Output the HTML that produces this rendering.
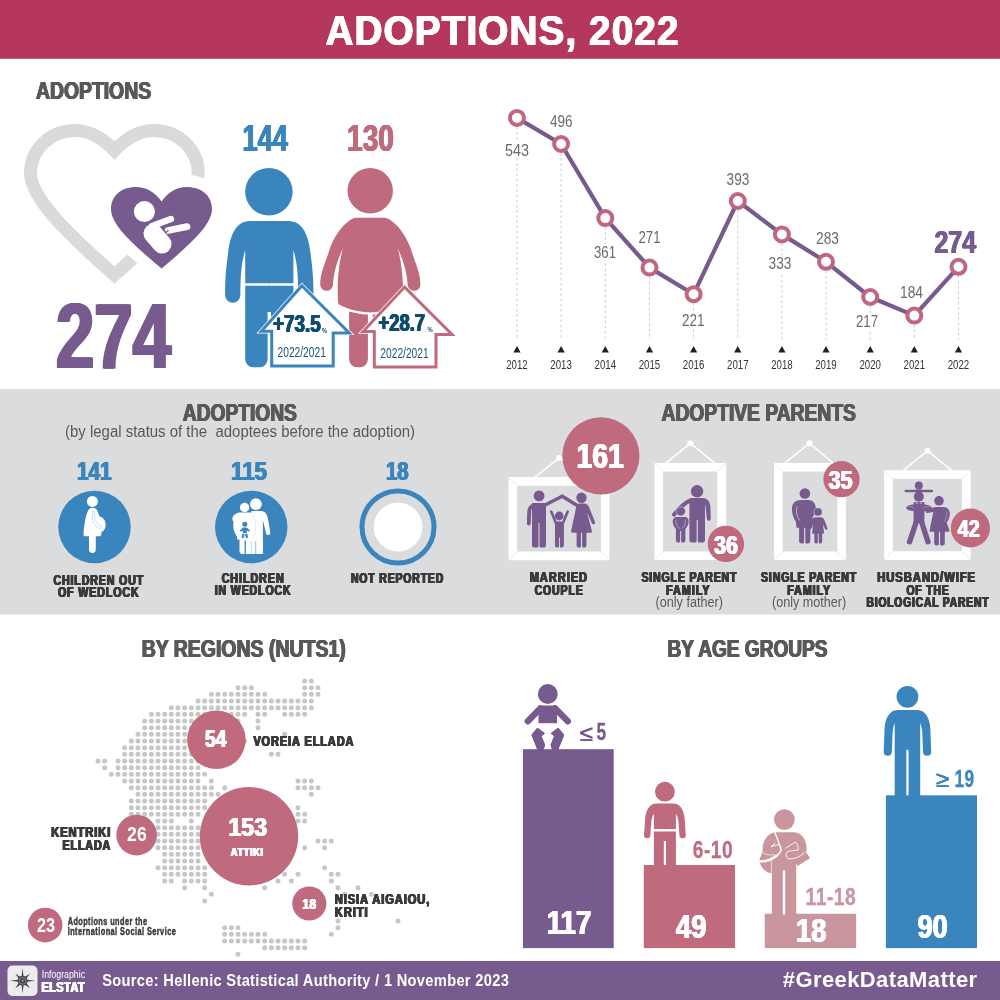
<!DOCTYPE html>
<html lang="en"><head><meta charset="utf-8"><title>Adoptions, 2022</title>
<style>
html,body{margin:0;padding:0;background:#fff;}
body{width:1000px;height:1000px;overflow:hidden;font-family:"Liberation Sans",sans-serif;}
svg{display:block;}
text{font-family:"Liberation Sans",sans-serif;}
</style></head><body>
<svg width="1000" height="1000" viewBox="0 0 1000 1000">
<rect x="0" y="0" width="1000" height="58.8" fill="#B5385C"/>
<rect x="0" y="389" width="1000" height="225.5" fill="#DBDCDD"/>
<rect x="0" y="961" width="1000" height="39" fill="#775A8E"/>
<text x="326.0" y="45.3" font-size="43.3" font-weight="bold" fill="#fff" textLength="354.02" lengthAdjust="spacingAndGlyphs" style="filter:drop-shadow(0.8px 0 0 #fff) drop-shadow(-0.8px 0 0 #fff)" letter-spacing="1.2">ADOPTIONS, 2022</text>
<text x="36.41" y="99.3" font-size="23.9" font-weight="bold" fill="#58595B" textLength="115.18" lengthAdjust="spacingAndGlyphs" style="filter:drop-shadow(0.41px 0 0 #58595B) drop-shadow(-0.41px 0 0 #58595B)">ADOPTIONS</text>
<text x="56.57" y="367.5" font-size="92.6" font-weight="bold" fill="#775A8E" textLength="114.86" lengthAdjust="spacingAndGlyphs" style="filter:drop-shadow(1.57px 0 0 #775A8E) drop-shadow(-1.57px 0 0 #775A8E)">274</text>
<text x="243.12" y="151" font-size="36.2" font-weight="bold" fill="#3A85BE" textLength="45.26" lengthAdjust="spacingAndGlyphs" style="filter:drop-shadow(0.62px 0 0 #3A85BE) drop-shadow(-0.62px 0 0 #3A85BE)">144</text>
<text x="347.62" y="151" font-size="36.2" font-weight="bold" fill="#BF6A7D" textLength="46.76" lengthAdjust="spacingAndGlyphs" style="filter:drop-shadow(0.62px 0 0 #BF6A7D) drop-shadow(-0.62px 0 0 #BF6A7D)">130</text>
<path d="M114.4 150.5 C103 138.5 90 130.5 75 130.5 C50 130.5 30.5 150 30.5 173 C30.5 198 68 234 114.4 275 C160.8 234 198.3 198 198.3 173 C198.3 150 178.8 130.5 153.8 130.5 C138.8 130.5 125.8 138.5 114.4 150.5Z" fill="none" stroke="#D8DADB" stroke-width="13" stroke-linejoin="miter" stroke-miterlimit="6"/>
<path d="M161.6 201.6 C155 192 146 187 136 187 C121 187 111 196 111 209 C111 224 130 242 161.6 268.6 C193 242 212 224 212 209 C212 196 202 187 186.5 187 C177 187 168 192 161.6 201.6Z" fill="#fff" stroke="#fff" stroke-width="24" stroke-linejoin="round"/>
<path d="M161.6 201.6 C155 192 146 187 136 187 C121 187 111 196 111 209 C111 224 130 242 161.6 268.6 C193 242 212 224 212 209 C212 196 202 187 186.5 187 C177 187 168 192 161.6 201.6Z" fill="#775A8E"/>
<circle cx="144.4" cy="211.6" r="10.5" fill="#fff"/>
<g stroke="#fff" stroke-linecap="round" fill="none"><line x1="153" y1="233.5" x2="162" y2="244" stroke-width="19"/><line x1="152" y1="226" x2="171" y2="219" stroke-width="6.2"/><line x1="168" y1="230.5" x2="187" y2="226.6" stroke-width="6.8"/></g>
<path d="M163.2 228.3 L165.8 232.8 L168.5 230.6" fill="none" stroke="#775A8E" stroke-width="1.3"/>
<circle cx="268.9" cy="191.75" r="23.75" fill="#3A85BE"/>
<g fill="#3A85BE"><path d="M269.8 221 H249.75 C236 221 229.8 236 228.2 252.5 C226.5 266 225.1 275 225.1 295 A7.65 7.65 0 0 0 240.4 295 C240.4 275 241.5 262 245.2 250 V283.3 H269.8Z"/><path d="M245.2 285.7 H269.8 V312 H267.6 V359.3 A8 8 0 0 1 259.6 367.3 H253.2 A8 8 0 0 1 245.2 359.3Z"/><g transform="translate(538.6 0) scale(-1 1)"><path d="M269.8 221 H249.75 C236 221 229.8 236 228.2 252.5 C226.5 266 225.1 275 225.1 295 A7.65 7.65 0 0 0 240.4 295 C240.4 275 241.5 262 245.2 250 V283.3 H269.8Z"/><path d="M245.2 285.7 H269.8 V312 H267.6 V359.3 A8 8 0 0 1 259.6 367.3 H253.2 A8 8 0 0 1 245.2 359.3Z"/></g></g>
<circle cx="370.2" cy="190.75" r="22.75" fill="#BF6A7D"/>
<g fill="#BF6A7D"><path d="M370.8 217.75 H355.9 C349 218.5 337 230 330.2 247.5 C326 262 320.2 272 320.2 284.4 A6.4 6.4 0 0 0 333 284.4 C333.6 272 338 258 343.1 248.3 C340 258 338.3 270 337.6 285 L337.9 302 Q338 304.3 340 305 C350 310 360 312.3 370.8 312.3Z"/><path d="M349.1 311.5 C356 313.5 363 314.6 367.9 314.6 V359.3 A8 8 0 0 1 359.9 367.3 H357.1 A8 8 0 0 1 349.1 359.3Z"/><g transform="translate(740.6 0) scale(-1 1)"><path d="M370.8 217.75 H355.9 C349 218.5 337 230 330.2 247.5 C326 262 320.2 272 320.2 284.4 A6.4 6.4 0 0 0 333 284.4 C333.6 272 338 258 343.1 248.3 C340 258 338.3 270 337.6 285 L337.9 302 Q338 304.3 340 305 C350 310 360 312.3 370.8 312.3Z"/><path d="M349.1 311.5 C356 313.5 363 314.6 367.9 314.6 V359.3 A8 8 0 0 1 359.9 367.3 H357.1 A8 8 0 0 1 349.1 359.3Z"/></g></g>
<path d="M301.9 285.7 L349.3 332.9 L333.2 332.9 L333.2 366 L271.7 366 L271.7 331.2 L261.3 331.2Z" fill="#fff" stroke="#fff" stroke-width="4.4" stroke-linejoin="miter"/><path d="M301.9 285.7 L349.3 332.9 L333.2 332.9 L333.2 366 L271.7 366 L271.7 331.2 L261.3 331.2Z" fill="#fff" stroke="#3A85BE" stroke-width="3" stroke-linejoin="miter"/>
<path d="M404.6 287.1 L452 334.4 L436 334.4 L436 367.1 L374.3 367.1 L374.3 331.6 L363 331.6Z" fill="#fff" stroke="#fff" stroke-width="4.4" stroke-linejoin="miter"/><path d="M404.6 287.1 L452 334.4 L436 334.4 L436 367.1 L374.3 367.1 L374.3 331.6 L363 331.6Z" fill="#fff" stroke="#BF6A7D" stroke-width="3" stroke-linejoin="miter"/>
<text x="273.49" y="331.6" font-size="23" font-weight="bold" fill="#0F4C6B" textLength="47.62" lengthAdjust="spacingAndGlyphs" style="filter:drop-shadow(0.39px 0 0 #0F4C6B) drop-shadow(-0.39px 0 0 #0F4C6B)">+73.5</text>
<text x="321.7" y="332.6" font-size="7" font-weight="bold" fill="#0F4C6B" textLength="5.2" lengthAdjust="spacingAndGlyphs">%</text>
<text x="277.5" y="356.9" font-size="14" fill="#1A5876" textLength="48.4" lengthAdjust="spacingAndGlyphs">2022/2021</text>
<text x="379.09" y="330.8" font-size="23" font-weight="bold" fill="#0F4C6B" textLength="46.52" lengthAdjust="spacingAndGlyphs" style="filter:drop-shadow(0.39px 0 0 #0F4C6B) drop-shadow(-0.39px 0 0 #0F4C6B)">+28.7</text>
<text x="427.6" y="332.4" font-size="7" font-weight="bold" fill="#0F4C6B" textLength="5.2" lengthAdjust="spacingAndGlyphs">%</text>
<text x="380.3" y="358.4" font-size="14" fill="#1A5876" textLength="48.4" lengthAdjust="spacingAndGlyphs">2022/2021</text>
<line x1="517.0" y1="126.9" x2="517.0" y2="340" stroke="#c4c4c4" stroke-width="0.9" stroke-dasharray="2.6 2.6"/>
<path d="M513.4 352.5 L517.0 346 L520.6 352.5Z" fill="#231F20"/>
<text x="517.0" y="369" font-size="13.5" fill="#333" text-anchor="middle" textLength="21.5" lengthAdjust="spacingAndGlyphs">2012</text>
<line x1="561.1" y1="153.0" x2="561.1" y2="340" stroke="#c4c4c4" stroke-width="0.9" stroke-dasharray="2.6 2.6"/>
<path d="M557.5 352.5 L561.1 346 L564.8 352.5Z" fill="#231F20"/>
<text x="561.1" y="369" font-size="13.5" fill="#333" text-anchor="middle" textLength="21.5" lengthAdjust="spacingAndGlyphs">2013</text>
<line x1="605.3" y1="227.1" x2="605.3" y2="340" stroke="#c4c4c4" stroke-width="0.9" stroke-dasharray="2.6 2.6"/>
<path d="M601.7 352.5 L605.3 346 L608.9 352.5Z" fill="#231F20"/>
<text x="605.3" y="369" font-size="13.5" fill="#333" text-anchor="middle" textLength="21.5" lengthAdjust="spacingAndGlyphs">2014</text>
<line x1="649.5" y1="276.6" x2="649.5" y2="340" stroke="#c4c4c4" stroke-width="0.9" stroke-dasharray="2.6 2.6"/>
<path d="M645.9 352.5 L649.5 346 L653.1 352.5Z" fill="#231F20"/>
<text x="649.5" y="369" font-size="13.5" fill="#333" text-anchor="middle" textLength="21.5" lengthAdjust="spacingAndGlyphs">2015</text>
<line x1="693.6" y1="303.2" x2="693.6" y2="340" stroke="#c4c4c4" stroke-width="0.9" stroke-dasharray="2.6 2.6"/>
<path d="M690.0 352.5 L693.6 346 L697.2 352.5Z" fill="#231F20"/>
<text x="693.6" y="369" font-size="13.5" fill="#333" text-anchor="middle" textLength="21.5" lengthAdjust="spacingAndGlyphs">2016</text>
<line x1="737.8" y1="210.0" x2="737.8" y2="340" stroke="#c4c4c4" stroke-width="0.9" stroke-dasharray="2.6 2.6"/>
<path d="M734.1 352.5 L737.8 346 L741.4 352.5Z" fill="#231F20"/>
<text x="737.8" y="369" font-size="13.5" fill="#333" text-anchor="middle" textLength="21.5" lengthAdjust="spacingAndGlyphs">2017</text>
<line x1="781.9" y1="243.4" x2="781.9" y2="340" stroke="#c4c4c4" stroke-width="0.9" stroke-dasharray="2.6 2.6"/>
<path d="M778.3 352.5 L781.9 346 L785.5 352.5Z" fill="#231F20"/>
<text x="781.9" y="369" font-size="13.5" fill="#333" text-anchor="middle" textLength="21.5" lengthAdjust="spacingAndGlyphs">2018</text>
<line x1="826.0" y1="270.8" x2="826.0" y2="340" stroke="#c4c4c4" stroke-width="0.9" stroke-dasharray="2.6 2.6"/>
<path d="M822.4 352.5 L826.0 346 L829.6 352.5Z" fill="#231F20"/>
<text x="826.0" y="369" font-size="13.5" fill="#333" text-anchor="middle" textLength="21.5" lengthAdjust="spacingAndGlyphs">2019</text>
<line x1="870.2" y1="306.0" x2="870.2" y2="340" stroke="#c4c4c4" stroke-width="0.9" stroke-dasharray="2.6 2.6"/>
<path d="M866.6 352.5 L870.2 346 L873.8 352.5Z" fill="#231F20"/>
<text x="870.2" y="369" font-size="13.5" fill="#333" text-anchor="middle" textLength="21.5" lengthAdjust="spacingAndGlyphs">2020</text>
<line x1="914.3" y1="324.6" x2="914.3" y2="340" stroke="#c4c4c4" stroke-width="0.9" stroke-dasharray="2.6 2.6"/>
<path d="M910.7 352.5 L914.3 346 L917.9 352.5Z" fill="#231F20"/>
<text x="914.3" y="369" font-size="13.5" fill="#333" text-anchor="middle" textLength="21.5" lengthAdjust="spacingAndGlyphs">2021</text>
<line x1="958.5" y1="275.8" x2="958.5" y2="340" stroke="#c4c4c4" stroke-width="0.9" stroke-dasharray="2.6 2.6"/>
<path d="M954.9 352.5 L958.5 346 L962.1 352.5Z" fill="#231F20"/>
<text x="958.5" y="369" font-size="13.5" fill="#333" text-anchor="middle" textLength="21.5" lengthAdjust="spacingAndGlyphs">2022</text>
<polyline points="517.0,117.9 561.1,144.0 605.3,218.1 649.5,267.6 693.6,294.2 737.8,201.0 781.9,234.4 826.0,261.8 870.2,297.0 914.3,315.6 958.5,266.8" fill="none" stroke="#775A8E" stroke-width="4.2" stroke-linejoin="round"/>
<circle cx="517.0" cy="117.9" r="7" fill="#fff" stroke="#C0667E" stroke-width="4"/>
<circle cx="561.1" cy="144.0" r="7" fill="#fff" stroke="#C0667E" stroke-width="4"/>
<circle cx="605.3" cy="218.1" r="7" fill="#fff" stroke="#C0667E" stroke-width="4"/>
<circle cx="649.5" cy="267.6" r="7" fill="#fff" stroke="#C0667E" stroke-width="4"/>
<circle cx="693.6" cy="294.2" r="7" fill="#fff" stroke="#C0667E" stroke-width="4"/>
<circle cx="737.8" cy="201.0" r="7" fill="#fff" stroke="#C0667E" stroke-width="4"/>
<circle cx="781.9" cy="234.4" r="7" fill="#fff" stroke="#C0667E" stroke-width="4"/>
<circle cx="826.0" cy="261.8" r="7" fill="#fff" stroke="#C0667E" stroke-width="4"/>
<circle cx="870.2" cy="297.0" r="7" fill="#fff" stroke="#C0667E" stroke-width="4"/>
<circle cx="914.3" cy="315.6" r="7" fill="#fff" stroke="#C0667E" stroke-width="4"/>
<circle cx="958.5" cy="266.8" r="7" fill="#fff" stroke="#C0667E" stroke-width="4"/>
<rect x="504" y="142" width="26" height="16.5" fill="#fff"/>
<text x="505.0" y="156" font-size="17" fill="#6a6b6d" textLength="24" lengthAdjust="spacingAndGlyphs">543</text>
<text x="550.0" y="126.6" font-size="17" fill="#6a6b6d" textLength="22.5" lengthAdjust="spacingAndGlyphs">496</text>
<rect x="593" y="244" width="24" height="16.5" fill="#fff"/>
<text x="594.0" y="258" font-size="17" fill="#6a6b6d" textLength="22" lengthAdjust="spacingAndGlyphs">361</text>
<text x="638.5" y="243" font-size="17" fill="#6a6b6d" textLength="22" lengthAdjust="spacingAndGlyphs">271</text>
<rect x="681" y="312" width="24.5" height="16.5" fill="#fff"/>
<text x="682.0" y="326" font-size="17" fill="#6a6b6d" textLength="22.5" lengthAdjust="spacingAndGlyphs">221</text>
<text x="726.6" y="185.4" font-size="17" fill="#6a6b6d" textLength="22.8" lengthAdjust="spacingAndGlyphs">393</text>
<rect x="767.6" y="255.39999999999998" width="24.8" height="16.5" fill="#fff"/>
<text x="768.6" y="269.4" font-size="17" fill="#6a6b6d" textLength="22.8" lengthAdjust="spacingAndGlyphs">333</text>
<text x="816.0" y="244" font-size="17" fill="#6a6b6d" textLength="23" lengthAdjust="spacingAndGlyphs">283</text>
<rect x="855" y="313" width="24" height="16.5" fill="#fff"/>
<text x="856.0" y="327" font-size="17" fill="#6a6b6d" textLength="22" lengthAdjust="spacingAndGlyphs">217</text>
<text x="900.0" y="297.6" font-size="17" fill="#6a6b6d" textLength="23" lengthAdjust="spacingAndGlyphs">184</text>
<text x="935.03" y="253" font-size="31" font-weight="bold" fill="#775A8E" textLength="41.44" lengthAdjust="spacingAndGlyphs" style="filter:drop-shadow(0.53px 0 0 #775A8E) drop-shadow(-0.53px 0 0 #775A8E)">274</text>
<text x="183.29" y="420.6" font-size="23.2" font-weight="bold" fill="#58595B" textLength="114.02" lengthAdjust="spacingAndGlyphs" style="filter:drop-shadow(0.39px 0 0 #58595B) drop-shadow(-0.39px 0 0 #58595B)">ADOPTIONS</text>
<text x="65.0" y="437" font-size="16" fill="#58595B" textLength="350" lengthAdjust="spacingAndGlyphs" xml:space="preserve">(by legal status of the  adoptees before the adoption)</text>
<text x="77.43" y="480.2" font-size="25.2" font-weight="bold" fill="#3A85BE" textLength="34.64" lengthAdjust="spacingAndGlyphs" style="filter:drop-shadow(0.43px 0 0 #3A85BE) drop-shadow(-0.43px 0 0 #3A85BE)">141</text>
<text x="231.43" y="480.2" font-size="25.2" font-weight="bold" fill="#3A85BE" textLength="36.14" lengthAdjust="spacingAndGlyphs" style="filter:drop-shadow(0.43px 0 0 #3A85BE) drop-shadow(-0.43px 0 0 #3A85BE)">115</text>
<text x="386.43" y="480.2" font-size="25.2" font-weight="bold" fill="#3A85BE" textLength="22.64" lengthAdjust="spacingAndGlyphs" style="filter:drop-shadow(0.43px 0 0 #3A85BE) drop-shadow(-0.43px 0 0 #3A85BE)">18</text>
<circle cx="94.5" cy="527" r="36.25" fill="#3A85BE"/>
<circle cx="251.25" cy="527" r="36.25" fill="#3A85BE"/>
<circle cx="398" cy="527" r="36" fill="none" stroke="#3A85BE" stroke-width="5"/>
<circle cx="398" cy="527" r="24.4" fill="#fff"/>
<text x="53.95" y="584.5" font-size="14.2" font-weight="bold" fill="#3A3A3C" textLength="90.62" lengthAdjust="spacingAndGlyphs" style="filter:drop-shadow(0.2px 0 0 #3A3A3C) drop-shadow(-0.2px 0 0 #3A3A3C)" letter-spacing="1.2">CHILDREN OUT</text>
<text x="58.45" y="597" font-size="14.2" font-weight="bold" fill="#3A3A3C" textLength="81.62" lengthAdjust="spacingAndGlyphs" style="filter:drop-shadow(0.2px 0 0 #3A3A3C) drop-shadow(-0.2px 0 0 #3A3A3C)" letter-spacing="1.2">OF WEDLOCK</text>
<text x="222.2" y="582.5" font-size="14.2" font-weight="bold" fill="#3A3A3C" textLength="62.87" lengthAdjust="spacingAndGlyphs" style="filter:drop-shadow(0.2px 0 0 #3A3A3C) drop-shadow(-0.2px 0 0 #3A3A3C)" letter-spacing="1.2">CHILDREN</text>
<text x="215.2" y="595" font-size="14.2" font-weight="bold" fill="#3A3A3C" textLength="76.87" lengthAdjust="spacingAndGlyphs" style="filter:drop-shadow(0.2px 0 0 #3A3A3C) drop-shadow(-0.2px 0 0 #3A3A3C)" letter-spacing="1.2">IN WEDLOCK</text>
<text x="351.45" y="583.25" font-size="14.2" font-weight="bold" fill="#3A3A3C" textLength="93.12" lengthAdjust="spacingAndGlyphs" style="filter:drop-shadow(0.2px 0 0 #3A3A3C) drop-shadow(-0.2px 0 0 #3A3A3C)" letter-spacing="1.2">NOT REPORTED</text>
<text x="661.99" y="420.6" font-size="23.2" font-weight="bold" fill="#58595B" textLength="194.42" lengthAdjust="spacingAndGlyphs" style="filter:drop-shadow(0.39px 0 0 #58595B) drop-shadow(-0.39px 0 0 #58595B)">ADOPTIVE PARENTS</text>
<path d="M533.8 478.1 L559 458 L590 478.1" fill="none" stroke="#fff" stroke-width="1.6"/>
<circle cx="559" cy="458" r="3" fill="#fff"/>
<path fill-rule="evenodd" fill="#fff" d="M508.5 477.1H609.5V560.2H508.5Z M517.1 485.70000000000005V551.6H600.9V485.70000000000005Z"/>
<line x1="508.5" y1="477.1" x2="517.1" y2="485.70000000000005" stroke="#e3e3e4" stroke-width="0.8"/>
<line x1="609.5" y1="477.1" x2="600.9" y2="485.70000000000005" stroke="#e3e3e4" stroke-width="0.8"/>
<line x1="508.5" y1="560.2" x2="517.1" y2="551.6" stroke="#e3e3e4" stroke-width="0.8"/>
<line x1="609.5" y1="560.2" x2="600.9" y2="551.6" stroke="#e3e3e4" stroke-width="0.8"/>
<path d="M665 463.9 L690.3 443.3 L715.8 463.9" fill="none" stroke="#fff" stroke-width="1.6"/>
<circle cx="690.3" cy="443.3" r="3" fill="#fff"/>
<path fill-rule="evenodd" fill="#fff" d="M654.4 462.9H726.1V560.1H654.4Z M663.1 471.59999999999997V551.4H717.4V471.59999999999997Z"/>
<line x1="654.4" y1="462.9" x2="663.1" y2="471.59999999999997" stroke="#e3e3e4" stroke-width="0.8"/>
<line x1="726.1" y1="462.9" x2="717.4" y2="471.59999999999997" stroke="#e3e3e4" stroke-width="0.8"/>
<line x1="654.4" y1="560.1" x2="663.1" y2="551.4" stroke="#e3e3e4" stroke-width="0.8"/>
<line x1="726.1" y1="560.1" x2="717.4" y2="551.4" stroke="#e3e3e4" stroke-width="0.8"/>
<path d="M783.75 463.9 L809.5 443.25 L834 463.9" fill="none" stroke="#fff" stroke-width="1.6"/>
<circle cx="809.5" cy="443.25" r="3" fill="#fff"/>
<path fill-rule="evenodd" fill="#fff" d="M774 462.9H845.9V560.1H774Z M782.5 471.4V551.6H837.4V471.4Z"/>
<line x1="774" y1="462.9" x2="782.5" y2="471.4" stroke="#e3e3e4" stroke-width="0.8"/>
<line x1="845.9" y1="462.9" x2="837.4" y2="471.4" stroke="#e3e3e4" stroke-width="0.8"/>
<line x1="774" y1="560.1" x2="782.5" y2="551.6" stroke="#e3e3e4" stroke-width="0.8"/>
<line x1="845.9" y1="560.1" x2="837.4" y2="551.6" stroke="#e3e3e4" stroke-width="0.8"/>
<path d="M902.5 471.2 L927.5 450.75 L952.5 471.2" fill="none" stroke="#fff" stroke-width="1.6"/>
<circle cx="927.5" cy="450.75" r="3" fill="#fff"/>
<path fill-rule="evenodd" fill="#fff" d="M884.2 470.2H970.6V559.9H884.2Z M892.8000000000001 478.8V551.3H962.0V478.8Z"/>
<line x1="884.2" y1="470.2" x2="892.8000000000001" y2="478.8" stroke="#e3e3e4" stroke-width="0.8"/>
<line x1="970.6" y1="470.2" x2="962.0" y2="478.8" stroke="#e3e3e4" stroke-width="0.8"/>
<line x1="884.2" y1="559.9" x2="892.8000000000001" y2="551.3" stroke="#e3e3e4" stroke-width="0.8"/>
<line x1="970.6" y1="559.9" x2="962.0" y2="551.3" stroke="#e3e3e4" stroke-width="0.8"/>
<circle cx="600.9" cy="455.8" r="38.6" fill="#BF6A7D"/>
<text x="576.99" y="468" font-size="34.8" font-weight="bold" fill="#fff" textLength="47.42" lengthAdjust="spacingAndGlyphs" style="filter:drop-shadow(0.59px 0 0 #fff) drop-shadow(-0.59px 0 0 #fff)">161</text>
<circle cx="725.9" cy="543.9" r="18.2" fill="#BF6A7D"/>
<text x="714.5" y="554" font-size="25.3" font-weight="bold" fill="#fff" textLength="24.0" lengthAdjust="spacingAndGlyphs" style="filter:drop-shadow(0.1px 0 0 #fff) drop-shadow(-0.1px 0 0 #fff)">36</text>
<circle cx="841.5" cy="479.2" r="18.1" fill="#BF6A7D"/>
<text x="828.9" y="488.6" font-size="25.3" font-weight="bold" fill="#fff" textLength="24.0" lengthAdjust="spacingAndGlyphs" style="filter:drop-shadow(0.1px 0 0 #fff) drop-shadow(-0.1px 0 0 #fff)">35</text>
<circle cx="970.4" cy="528" r="19.6" fill="#BF6A7D"/>
<text x="958.3" y="536.8" font-size="23.5" font-weight="bold" fill="#fff" textLength="21.8" lengthAdjust="spacingAndGlyphs" style="filter:drop-shadow(0.1px 0 0 #fff) drop-shadow(-0.1px 0 0 #fff)">42</text>
<text x="530.2" y="582" font-size="14.2" font-weight="bold" fill="#3A3A3C" textLength="58.22" lengthAdjust="spacingAndGlyphs" style="filter:drop-shadow(0.2px 0 0 #3A3A3C) drop-shadow(-0.2px 0 0 #3A3A3C)" letter-spacing="1.2">MARRIED</text>
<text x="535.2" y="594.6" font-size="14.2" font-weight="bold" fill="#3A3A3C" textLength="48.82" lengthAdjust="spacingAndGlyphs" style="filter:drop-shadow(0.2px 0 0 #3A3A3C) drop-shadow(-0.2px 0 0 #3A3A3C)" letter-spacing="1.2">COUPLE</text>
<text x="641.9" y="582" font-size="14.2" font-weight="bold" fill="#3A3A3C" textLength="95.92" lengthAdjust="spacingAndGlyphs" style="filter:drop-shadow(0.2px 0 0 #3A3A3C) drop-shadow(-0.2px 0 0 #3A3A3C)" letter-spacing="1.2">SINGLE PARENT</text>
<text x="666.6" y="594.6" font-size="14.2" font-weight="bold" fill="#3A3A3C" textLength="44.22" lengthAdjust="spacingAndGlyphs" style="filter:drop-shadow(0.2px 0 0 #3A3A3C) drop-shadow(-0.2px 0 0 #3A3A3C)" letter-spacing="1.2">FAMILY</text>
<text x="655.5" y="607" font-size="14" fill="#58595B" textLength="67.5" lengthAdjust="spacingAndGlyphs">(only father)</text>
<text x="761.45" y="582" font-size="14.2" font-weight="bold" fill="#3A3A3C" textLength="96.12" lengthAdjust="spacingAndGlyphs" style="filter:drop-shadow(0.2px 0 0 #3A3A3C) drop-shadow(-0.2px 0 0 #3A3A3C)" letter-spacing="1.2">SINGLE PARENT</text>
<text x="787.7" y="594.6" font-size="14.2" font-weight="bold" fill="#3A3A3C" textLength="43.87" lengthAdjust="spacingAndGlyphs" style="filter:drop-shadow(0.2px 0 0 #3A3A3C) drop-shadow(-0.2px 0 0 #3A3A3C)" letter-spacing="1.2">FAMILY</text>
<text x="772.0" y="607" font-size="14" fill="#58595B" textLength="74.25" lengthAdjust="spacingAndGlyphs">(only mother)</text>
<text x="877.7" y="582" font-size="14.2" font-weight="bold" fill="#3A3A3C" textLength="98.87" lengthAdjust="spacingAndGlyphs" style="filter:drop-shadow(0.2px 0 0 #3A3A3C) drop-shadow(-0.2px 0 0 #3A3A3C)" letter-spacing="1.2">HUSBAND/WIFE</text>
<text x="906.95" y="594.6" font-size="14.2" font-weight="bold" fill="#3A3A3C" textLength="43.12" lengthAdjust="spacingAndGlyphs" style="filter:drop-shadow(0.2px 0 0 #3A3A3C) drop-shadow(-0.2px 0 0 #3A3A3C)" letter-spacing="1.2">OF THE</text>
<text x="866.95" y="607.3" font-size="14.2" font-weight="bold" fill="#3A3A3C" textLength="122.82" lengthAdjust="spacingAndGlyphs" style="filter:drop-shadow(0.2px 0 0 #3A3A3C) drop-shadow(-0.2px 0 0 #3A3A3C)" letter-spacing="1.2">BIOLOGICAL PARENT</text>
<g fill="#fff"><circle cx="92.4" cy="501.4" r="5.5"/><path d="M91 508 C94 507.5 96.5 508.5 97.2 510.5 L99.6 516.5 C103.5 517.5 105.8 521 105.6 525 C105.5 529 103.5 531.5 101.3 532 L101.3 534.5 Q101.3 536.2 99.8 536.2 L85 536.2 Q83.3 536.2 83.5 534.3 C84 524 86 514 88.5 510 Q89.5 508.2 91 508Z"/><path d="M89 535 H95.8 V549.6 A3.4 3.4 0 0 1 89 549.6Z"/></g>
<path d="M92.3 511.2 C93.4 510.6 94.2 511.2 94.4 512.4 L95 519 C96 523 99.5 525.5 101.8 526.3 L100.2 528.6 C96 527 92.6 523 92.3 519Z" fill="none" stroke="#3A85BE" stroke-width="0.35" opacity="0.7"/>
<g fill="#fff"><circle cx="255.9" cy="504.1" r="5.95"/><circle cx="244.6" cy="507.5" r="4.7"/><path d="M251.5 511 H261 C265.5 511 267.3 515 268 519 L270.2 532.3 A2.1 2.1 0 0 1 266.1 533.4 L262.9 520 V553.9 H251.5Z"/><path d="M240 512.6 C236 512.8 232.6 515.5 232.4 518.8 C232.3 520.3 233 521.4 233.6 521.8 C232.6 527 234 533 237 536.4 L237 539.6 H254 V512.6Z"/><path d="M239.5 539 H262.9 V551.5 Q262.9 553.9 260.5 553.9 H241.9 Q239.5 553.9 239.5 551.5Z"/></g>
<g stroke="#3A85BE" fill="none"><line x1="245.25" y1="540.5" x2="245.25" y2="554.2" stroke-width="1.3"/><line x1="255.7" y1="541" x2="255.7" y2="554.2" stroke-width="0.7" opacity="0.8"/><line x1="251.3" y1="541" x2="251.3" y2="554.2" stroke-width="0.5" opacity="0.6"/><path d="M251.8 513.5 C255 517 256 523 255.3 529 C255 533 254 536 252.8 538.6" stroke-width="0.4" opacity="0.6" stroke-dasharray="1.2 0.8"/></g>
<g fill="#3A85BE"><circle cx="244.8" cy="524.3" r="2.5"/><path d="M243 527.6 H246.6 L249.9 530.6 L249 531.8 L246.8 530.6 V533.2 H242.8 V530.6 L240.6 531.8 L239.7 530.6Z"/><path d="M242.6 534 L244.2 534.6 L243.2 537.9 L241.9 537.5Z M247 534 L245.4 534.6 L246.4 537.9 L247.7 537.5Z" stroke="#3A85BE" stroke-width="0.8" stroke-linejoin="round"/></g>
<circle cx="539.1" cy="495.9" r="5.4" fill="#775A8E"/>
<path fill="#775A8E" d="M532 503 H546 V523 H532Z"/>
<path fill="#775A8E" d="M536.5 503 C530.5 503 527.6 507 527.2 512 L526.9 523.6 A1.9 1.9 0 0 0 530.7 523.6 L531.2 512 C531.4 509.5 532 508.3 532.6 507.6Z"/>
<path fill="#775A8E" d="M532 521 H546 V545.0 Q546 547.6 543.4 547.6 H540.3 Q539.5 547.6 539.5 545.0 V523 H538.5 V545.0 Q538.5 547.6 537.7 547.6 H534.6 Q532 547.6 532 545.0Z"/>
<line x1="545.6" y1="504.8" x2="562.2" y2="496.3" stroke="#775A8E" stroke-width="3.4" stroke-linecap="round"/><line x1="562.2" y1="496.3" x2="576" y2="504.8" stroke="#775A8E" stroke-width="3.4" stroke-linecap="round"/>
<circle cx="581.5" cy="497.8" r="5.2" fill="#775A8E"/>
<path fill="#775A8E" d="M578.5 503.4 H584 C586.8 503.4 588.3 505.3 589.2 507.5 L594.9 521.8 A1.6 1.6 0 0 1 591.9 523.2 L587.2 512.5 L591.9 531 Q592.2 532.7 590.5 532.7 H572.4 Q570.7 532.7 571.1 531 L576.2 507 C576.6 504.8 577 503.4 578.5 503.4Z"/>
<path fill="#775A8E" d="M576.6 532 H586.4 V545.4 Q586.4 547.6 584.1999999999999 547.6 H582.9 Q582.1 547.6 582.1 545.4 V532 H580.9 V545.4 Q580.9 547.6 580.1 547.6 H578.8000000000001 Q576.6 547.6 576.6 545.4Z"/>
<circle cx="559.2" cy="516" r="4.4" fill="#775A8E"/>
<path fill="#775A8E" d="M555 523.2 Q555 521.4 557 521.4 H561.6 Q563.9 521.4 563.9 523.2 V536 H555Z"/>
<path fill="#775A8E" d="M555 535 H563.9 V545.6 Q563.9 547.6 561.9 547.6 H560.7 Q559.9000000000001 547.6 559.9000000000001 545.6 V537.5 H559.0 V545.6 Q559.0 547.6 558.2 547.6 H557 Q555 547.6 555 545.6Z"/>
<line x1="555.9" y1="523" x2="551.2" y2="511.6" stroke="#775A8E" stroke-width="2.6" stroke-linecap="round"/><line x1="563" y1="523" x2="567.7" y2="511.6" stroke="#775A8E" stroke-width="2.6" stroke-linecap="round"/>
<circle cx="697.1" cy="491.3" r="6.2" fill="#775A8E"/>
<path fill="#775A8E" d="M693 498.1 H702.5 C708 498.1 710 502.5 710.4 507 L710.8 518.6 A2 2 0 0 1 706.8 518.8 L705.6 507 L705 504 V520 H689.4 V503 C689.4 500 690.8 498.1 693 498.1Z"/>
<path d="M691.5 500 C687 501.5 683 505 679.5 508.5 L674 514.6" fill="none" stroke="#775A8E" stroke-width="4" stroke-linecap="round"/>
<path fill="#775A8E" d="M689.4 519 H705 V539.7 Q705 542.5 702.2 542.5 H698.55 Q697.75 542.5 697.75 539.7 V517.7 H696.6500000000001 V539.7 Q696.6500000000001 542.5 695.8500000000001 542.5 H692.1999999999999 Q689.4 542.5 689.4 539.7Z"/>
<circle cx="680.8" cy="511.3" r="4.6" fill="#775A8E" stroke="#DBDCDD" stroke-width="0.5"/>
<path fill="#775A8E" d="M676.5 516.9 H685 C687.8 516.9 689 519.5 688.6 522.5 C688.2 526 686 529 683.5 530.5 H678 C675.3 529 673.1 526 672.8 522.5 C672.5 519.5 673.8 516.9 676.5 516.9Z"/>
<path fill="#775A8E" d="M675.9 528 H685.4 V540.5 Q685.4 542.5 683.4 542.5 H681.9499999999999 Q681.15 542.5 681.15 540.5 V531 H680.15 V540.5 Q680.15 542.5 679.35 542.5 H677.9 Q675.9 542.5 675.9 540.5Z"/>
<path d="M675.8 519.5 C675.6 524 677.5 527.3 679.8 528.5 M685.6 519.5 C685.8 524 684 527.3 681.6 528.5" fill="none" stroke="#DBDCDD" stroke-width="0.55"/>
<circle cx="804.9" cy="493.5" r="5.3" fill="#775A8E"/>
<path fill="#775A8E" d="M801 500.1 H809 C813 500.3 815.3 503.5 815.9 507.5 L815.9 512 L812.3 518 V527.8 H796.5 L796 522 C793 517.5 791.7 512 792 508 C792.3 503 796 500.2 801 500.1Z"/>
<path fill="#775A8E" d="M799.1 527 H810.3 V541.2 Q810.3 543.6 807.9 543.6 H806.1 Q805.3000000000001 543.6 805.3000000000001 541.2 V527 H804.1 V541.2 Q804.1 543.6 803.3000000000001 543.6 H801.5 Q799.1 543.6 799.1 541.2Z"/>
<path d="M797.2 506.5 C795.6 511 796.6 516 799.8 520.5" fill="none" stroke="#DBDCDD" stroke-width="0.7"/>
<circle cx="818" cy="511.9" r="4.1" fill="#775A8E" stroke="#DBDCDD" stroke-width="0.5"/>
<path fill="#775A8E" d="M815.5 517.2 H820.5 C822.8 517.2 824 518.8 824.6 520.6 L827.3 528 A1.2 1.2 0 0 1 825.1 529 L822.9 524 L824 532.3 Q824.2 533.8 822.6 533.8 H813.5 Q811.9 533.8 812.1 532.3 L813.2 524 L811 529 A1.2 1.2 0 0 1 808.8 528 L811.4 520.6 C812 518.8 813.2 517.2 815.5 517.2Z"/>
<path fill="#775A8E" d="M814.3 533 H822.2 V541.8000000000001 Q822.2 543.6 820.4000000000001 543.6 H819.5 Q818.7 543.6 818.7 541.8000000000001 V533 H817.8 V541.8000000000001 Q817.8 543.6 817.0 543.6 H816.0999999999999 Q814.3 543.6 814.3 541.8000000000001Z"/>
<circle cx="918.8" cy="485.6" r="4" fill="#775A8E"/>
<line x1="905.8" y1="491" x2="931.8" y2="491" stroke="#775A8E" stroke-width="2.6" stroke-linecap="round"/>
<path fill="#775A8E" d="M916 489.5 H921.6 V496 H916Z"/>
<circle cx="918.8" cy="496.8" r="5" fill="#775A8E"/>
<ellipse cx="918.9" cy="507.8" rx="12.7" ry="3.9" fill="#775A8E"/>
<path fill="#775A8E" d="M913.6 502 H924.4 V523 H913.6Z"/>
<line x1="916.2" y1="522" x2="909.6" y2="541.8" stroke="#775A8E" stroke-width="5.4" stroke-linecap="round"/><line x1="921.6" y1="522" x2="928" y2="541.8" stroke="#775A8E" stroke-width="5.4" stroke-linecap="round"/>
<path d="M915.6 502.6 h2.2 v1 h-2.2z M919.8 502.6 h2.2 v1 h-2.2z" fill="#DBDCDD" opacity="0.8"/>
<path d="M907.5 506.8 C910 505.8 913 506.8 914.4 509 M930.3 506.8 C927.8 505.8 924.8 506.8 923.4 509" fill="none" stroke="#DBDCDD" stroke-width="0.45" opacity="0.8"/>
<circle cx="939" cy="500.8" r="4.8" fill="#775A8E"/>
<path fill="#775A8E" d="M936.5 507 H943.5 C947 507 949.6 509.6 949.8 513 C950 517 948.5 520 946.6 522.5 L949.4 530.3 Q949.9 531.8 948.3 531.8 H930.6 Q929.2 531.8 929.6 530.3 L933.3 512 L927.2 513 A1.6 1.6 0 0 1 926.4 510 L933 507.6 C934 507.2 935 507 936.5 507Z"/>
<path fill="#775A8E" d="M934.2 531 H944.8 V543.1999999999999 Q944.8 545.4 942.5999999999999 545.4 H940.9 Q940.1 545.4 940.1 543.1999999999999 V531 H938.9 V543.1999999999999 Q938.9 545.4 938.1 545.4 H936.4000000000001 Q934.2 545.4 934.2 543.1999999999999Z"/>
<path d="M946.6 511.5 C947.5 515 946.5 518.5 944 521.5" fill="none" stroke="#DBDCDD" stroke-width="0.5" opacity="0.8"/>
<path d="M304.67 681.00H311.43 M238.00 687.67H251.43 M304.67 687.67H318.10 M211.33 694.33H264.77 M304.67 694.33H318.10 M198.00 701.00H311.43 M171.33 707.67H311.43 M151.33 714.33H244.77 M258.00 714.33H264.77 M284.67 714.33H304.77 M144.67 721.00H238.10 M258.00 721.00h0.01 M144.67 727.67H231.43 M258.00 727.67h0.01 M138.00 734.33H231.43 M284.67 734.33h0.01 M131.33 741.00H244.77 M124.67 747.67H231.43 M124.67 754.33H231.43 M271.33 754.33H278.10 M98.00 761.00H104.77 M118.00 761.00H224.77 M104.67 767.67h0.01 M118.00 767.67H198.10 M111.33 774.33H204.77 M124.67 781.00H198.10 M211.33 781.00h0.01 M298.00 781.00H311.43 M131.33 787.67H211.43 M224.67 787.67h0.01 M298.00 787.67H318.10 M138.00 794.33H218.10 M311.33 794.33h0.01 M131.33 801.00H204.77 M131.33 807.67H204.77 M298.00 807.67h0.01 M131.33 814.33H198.10 M298.00 814.33H304.77 M158.00 821.00H171.43 M191.33 821.00h0.01 M298.00 821.00H304.77 M158.00 827.67H198.10 M158.00 834.33H198.10 M158.00 841.00H198.10 M318.00 841.00H331.43 M158.00 847.67H198.10 M304.67 847.67h0.01 M324.67 847.67h0.01 M164.67 854.33H198.10 M164.67 861.00H198.10 M158.00 867.67H204.77 M324.67 867.67h0.01 M164.67 874.33H204.77 M284.67 874.33h0.01 M298.00 874.33h0.01 M331.33 874.33H338.10 M164.67 881.00H171.43 M184.67 881.00H204.77 M278.00 881.00h0.01 M291.33 881.00h0.01 M331.33 881.00h0.01 M184.67 887.67h0.01 M204.67 887.67h0.01 M264.67 887.67h0.01 M338.00 887.67h0.01 M358.00 887.67h0.01 M211.33 894.33h0.01 M344.67 894.33h0.01 M371.33 894.33h0.01 M204.67 901.00h0.01 M338.00 921.00h0.01 M398.00 921.00h0.01 M224.67 927.67H238.10 M338.00 927.67h0.01 M224.67 934.33H264.77 M331.33 934.33h0.01 M224.67 941.00H304.77 M264.67 947.67H304.77 M238.00 954.33h0.01" fill="none" stroke="#C6C8C8" stroke-width="5" stroke-linecap="round" stroke-dasharray="0 6.6667"/>
<text x="142.19" y="657.2" font-size="23.2" font-weight="bold" fill="#58595B" textLength="204.02" lengthAdjust="spacingAndGlyphs" style="filter:drop-shadow(0.39px 0 0 #58595B) drop-shadow(-0.39px 0 0 #58595B)">BY REGIONS (NUTS1)</text>
<circle cx="216.4" cy="739.75" r="29.3" fill="#BF6A7D"/>
<circle cx="249" cy="836.25" r="49.2" fill="#BF6A7D"/>
<circle cx="136.6" cy="835.1" r="20.3" fill="#BF6A7D"/>
<circle cx="309.3" cy="903.5" r="17.1" fill="#BF6A7D"/>
<circle cx="45.2" cy="925.1" r="17.3" fill="#BF6A7D"/>
<text x="205.5" y="747.2" font-size="23.6" font-weight="bold" fill="#fff" textLength="21.4" lengthAdjust="spacingAndGlyphs" style="filter:drop-shadow(0.2px 0 0 #fff) drop-shadow(-0.2px 0 0 #fff)">54</text>
<text x="229.04" y="835.75" font-size="25.8" font-weight="bold" fill="#fff" textLength="38.52" lengthAdjust="spacingAndGlyphs" style="filter:drop-shadow(0.44px 0 0 #fff) drop-shadow(-0.44px 0 0 #fff)">153</text>
<text x="231.35" y="855.75" font-size="11.5" font-weight="bold" fill="#fff" textLength="32.98" lengthAdjust="spacingAndGlyphs" style="filter:drop-shadow(0.1px 0 0 #fff) drop-shadow(-0.1px 0 0 #fff)" letter-spacing="0.8">ATTIKI</text>
<text x="127.1" y="841" font-size="20.2" font-weight="bold" fill="#fff" textLength="19.6" lengthAdjust="spacingAndGlyphs">26</text>
<text x="303.1" y="908.5" font-size="15" font-weight="bold" fill="#fff" textLength="13.74" lengthAdjust="spacingAndGlyphs" style="filter:drop-shadow(0.1px 0 0 #fff) drop-shadow(-0.1px 0 0 #fff)" letter-spacing="0.4">18</text>
<text x="37.0" y="932.4" font-size="19.6" font-weight="bold" fill="#fff" textLength="18" lengthAdjust="spacingAndGlyphs">23</text>
<text x="253.9" y="746.4" font-size="14.5" font-weight="bold" fill="#3A3A3C" textLength="100.92" lengthAdjust="spacingAndGlyphs" style="filter:drop-shadow(0.2px 0 0 #3A3A3C) drop-shadow(-0.2px 0 0 #3A3A3C)" letter-spacing="1.2">VOREIA ELLADA</text>
<text x="51.7" y="837.4" font-size="14.5" font-weight="bold" fill="#3A3A3C" textLength="60.02" lengthAdjust="spacingAndGlyphs" style="filter:drop-shadow(0.2px 0 0 #3A3A3C) drop-shadow(-0.2px 0 0 #3A3A3C)" letter-spacing="1.2">KENTRIKI</text>
<text x="63.0" y="850" font-size="14.5" font-weight="bold" fill="#3A3A3C" textLength="48.72" lengthAdjust="spacingAndGlyphs" style="filter:drop-shadow(0.2px 0 0 #3A3A3C) drop-shadow(-0.2px 0 0 #3A3A3C)" letter-spacing="1.2">ELLADA</text>
<text x="335.2" y="904" font-size="14.5" font-weight="bold" fill="#3A3A3C" textLength="95.62" lengthAdjust="spacingAndGlyphs" style="filter:drop-shadow(0.2px 0 0 #3A3A3C) drop-shadow(-0.2px 0 0 #3A3A3C)" letter-spacing="1.2">NISIA AIGAIOU,</text>
<text x="335.2" y="917" font-size="14.5" font-weight="bold" fill="#3A3A3C" textLength="33.82" lengthAdjust="spacingAndGlyphs" style="filter:drop-shadow(0.2px 0 0 #3A3A3C) drop-shadow(-0.2px 0 0 #3A3A3C)" letter-spacing="1.2">KRITI</text>
<text x="67.7" y="924.5" font-size="10" font-weight="bold" fill="#3A3A3C" textLength="79.71" lengthAdjust="spacingAndGlyphs" letter-spacing="0.6" stroke="#3A3A3C" stroke-width="0.45">Adoptions under the</text>
<text x="67.7" y="935.3" font-size="10" font-weight="bold" fill="#3A3A3C" textLength="108.51" lengthAdjust="spacingAndGlyphs" letter-spacing="0.6" stroke="#3A3A3C" stroke-width="0.45">International Social Service</text>
<text x="667.89" y="656.5" font-size="23.2" font-weight="bold" fill="#58595B" textLength="160.22" lengthAdjust="spacingAndGlyphs" style="filter:drop-shadow(0.39px 0 0 #58595B) drop-shadow(-0.39px 0 0 #58595B)">BY AGE GROUPS</text>
<rect x="523" y="749.2" width="90.7" height="198.9" fill="#775A8E"/>
<rect x="643.8" y="865" width="91.2" height="83.1" fill="#BF6A7D"/>
<rect x="764.75" y="913.75" width="91.4" height="34.35" fill="#C9969E"/>
<rect x="885.9" y="795.3" width="91.1" height="152.8" fill="#3A85BE"/>
<text x="547.3" y="933.7" font-size="33.4" font-weight="bold" fill="#fff" textLength="44.4" lengthAdjust="spacingAndGlyphs" style="filter:drop-shadow(0.3px 0 0 #fff) drop-shadow(-0.3px 0 0 #fff)">117</text>
<text x="676.5" y="938.4" font-size="32.4" font-weight="bold" fill="#fff" textLength="30.4" lengthAdjust="spacingAndGlyphs" style="filter:drop-shadow(0.3px 0 0 #fff) drop-shadow(-0.3px 0 0 #fff)">49</text>
<text x="796.5" y="942" font-size="33.2" font-weight="bold" fill="#fff" textLength="30.4" lengthAdjust="spacingAndGlyphs" style="filter:drop-shadow(0.3px 0 0 #fff) drop-shadow(-0.3px 0 0 #fff)">18</text>
<text x="917.9" y="938.4" font-size="33.4" font-weight="bold" fill="#fff" textLength="30.4" lengthAdjust="spacingAndGlyphs" style="filter:drop-shadow(0.3px 0 0 #fff) drop-shadow(-0.3px 0 0 #fff)">90</text>
<text x="580.25" y="740.5" font-size="22.5" fill="#775A8E" textLength="12.7" lengthAdjust="spacingAndGlyphs" style="filter:drop-shadow(0.25px 0 0 #775A8E) drop-shadow(-0.25px 0 0 #775A8E)">≤</text>
<text x="596.5" y="740" font-size="23.5" font-weight="bold" fill="#775A8E" textLength="9.6" lengthAdjust="spacingAndGlyphs" stroke="#775A8E" stroke-width="0.3">5</text>
<text x="692.75" y="857.8" font-size="23.4" font-weight="bold" fill="#BF6A7D" textLength="40.31" lengthAdjust="spacingAndGlyphs" letter-spacing="0.6" stroke="#BF6A7D" stroke-width="0.3">6-10</text>
<text x="805.6" y="905.4" font-size="23.6" font-weight="bold" fill="#C9969E" textLength="50.71" lengthAdjust="spacingAndGlyphs" letter-spacing="0.6" stroke="#C9969E" stroke-width="0.3">11-18</text>
<text x="936.55" y="787.3" font-size="22.5" fill="#3A85BE" textLength="12.9" lengthAdjust="spacingAndGlyphs" style="filter:drop-shadow(0.25px 0 0 #3A85BE) drop-shadow(-0.25px 0 0 #3A85BE)">≥</text>
<text x="954.5" y="786.9" font-size="23.6" font-weight="bold" fill="#3A85BE" textLength="20.11" lengthAdjust="spacingAndGlyphs" letter-spacing="0.6" stroke="#3A85BE" stroke-width="0.3">19</text>
<rect x="7.5" y="965.5" width="30" height="30.5" rx="5" fill="#ECECED"/>
<polygon points="29.95,973.45 25.00,980.80 29.95,988.15 22.60,983.20 15.25,988.15 20.20,980.80 15.25,973.45 22.60,978.40" fill="#4A4550"/>
<polygon points="22.60,968.00 23.80,979.60 35.40,980.80 23.80,982.00 22.60,993.60 21.40,982.00 9.80,980.80 21.40,979.60" fill="#3B3640"/>
<circle cx="22.6" cy="980.8" r="5" fill="#4A4550"/><circle cx="22.6" cy="980.8" r="3.4" fill="none" stroke="#ECECED" stroke-width="0.5" opacity="0.7"/><circle cx="22.9" cy="980.5" r="1.2" fill="#8a8690"/>
<text x="41.8" y="977.6" font-size="10.2" fill="#fff" textLength="43.2" lengthAdjust="spacingAndGlyphs">Infographic</text>
<text x="41.98" y="991.9" font-size="14" font-weight="bold" fill="#fff" textLength="43.64" lengthAdjust="spacingAndGlyphs" style="filter:drop-shadow(0.08px 0 0 #fff) drop-shadow(-0.08px 0 0 #fff)" letter-spacing="0.7">ELSTAT</text>
<text x="102.2" y="985.7" font-size="16.7" font-weight="bold" fill="#fff" textLength="406.9" lengthAdjust="spacingAndGlyphs" letter-spacing="0.35">Source: Hellenic Statistical Authority / 1 November 2023</text>
<text x="782.8" y="987.2" font-size="21.8" font-weight="bold" fill="#fff" textLength="194.74" lengthAdjust="spacingAndGlyphs" letter-spacing="0.4">#GreekDataMatter</text>
<g fill="#775A8E"><circle cx="547.8" cy="694" r="9.9"/><path d="M538.5 705.5 H557 V723.2 H538.5Z"/><path d="M537.5 728 L545 733.5 L541.5 736 L545 745 L543.5 750 H537.5 L531.5 735Z" stroke-linejoin="round"/><path d="M558.1 728 L550.6 733.5 L554.1 736 L550.6 745 L552.1 750 H558.1 L564.1 735Z"/></g>
<g stroke="#775A8E" stroke-width="6.4" stroke-linecap="round"><line x1="540.5" y1="708.3" x2="527.8" y2="721.3"/><line x1="555" y1="708.3" x2="567.8" y2="721.3"/></g>
<g fill="none" stroke="#775A8E" stroke-width="2.4" stroke-linejoin="round"><path d="M537.5 729.2 L543 733.3 L540 735.6 L543.8 745 L542.6 749 H538.3 L532.8 735Z"/><path d="M558.1 729.2 L552.6 733.3 L555.6 735.6 L551.8 745 L553 749 H557.3 L562.8 735Z"/></g>
<g fill="#BF6A7D"><circle cx="664.9" cy="791.7" r="9.9"/><path d="M665.4 803.6 H656.5 C649 803.6 646 811 645.2 818 L644 835 A3.2 3.2 0 0 0 650.4 835.3 L651.3 822 C651.8 818 652.8 815.5 653.9 814 V829 H665.4Z"/><path d="M653.9 831.6 H665.4 V841 H663.8 V866 H653.9Z"/><g transform="translate(1329.8 0) scale(-1 1)"><path d="M665.4 803.6 H656.5 C649 803.6 646 811 645.2 818 L644 835 A3.2 3.2 0 0 0 650.4 835.3 L651.3 822 C651.8 818 652.8 815.5 653.9 814 V829 H665.4Z"/><path d="M653.9 831.6 H665.4 V841 H663.8 V866 H653.9Z"/></g></g>
<g fill="#C9969E"><circle cx="784.4" cy="819.6" r="10.4"/><path d="M776 832.25 H794 C802 832.5 806.3 840 806.6 848 C806.8 853 804 857.5 799 859.5 L796.25 862 V914.5 H771.9 V873.2 C765 872.5 760 867 759.3 860 L762.5 851.5 C762 842 767 833 776 832.25Z"/><path d="M794.5 860.5 L806.5 852.6 L810 858.3 L797.5 866Z"/></g>
<g fill="none" stroke="#fff" stroke-linecap="round"><path d="M774.8 832 C777 838 780 845 781 850 C779 857 768 861.5 759.5 861.5" stroke-width="1.3"/><path d="M759.3 861.3 C765 861.8 772 859.5 777 855.5" stroke-width="2.3"/><path d="M771.2 846.5 L775 843.2 M771.2 846.5 L778.5 844.6 C781 845.5 782 848 781 850.3" stroke-width="0.9"/><path d="M762.8 852.5 C766 855 771 855.5 774.5 854.5" stroke-width="0.7"/><path d="M785.5 848.3 L795.5 842 C797.5 844 798.3 847 798 850 L788 851.3 C785.5 853 785.5 857 788 858.6 C793 859.5 800 857.5 804.5 852.5" stroke-width="0.9"/><line x1="771.4" y1="857" x2="771.4" y2="873" stroke-width="0.6"/><line x1="784" y1="870.5" x2="784" y2="914.5" stroke-width="2.5" stroke-linecap="butt"/></g>
<g fill="#3A85BE"><circle cx="907.45" cy="696.8" r="10.9"/><path d="M907.95 710.1 H897.5 C889 710.3 885.3 719 884.6 728 L883.7 751.6 A4.1 4.1 0 0 0 891.9 751.8 L892.6 733 C892.9 728.5 893.8 725 894.7 723 V796 H906.35 V749.8 H907.95Z"/><g transform="translate(1814.9 0) scale(-1 1)"><path d="M907.95 710.1 H897.5 C889 710.3 885.3 719 884.6 728 L883.7 751.6 A4.1 4.1 0 0 0 891.9 751.8 L892.6 733 C892.9 728.5 893.8 725 894.7 723 V796 H906.35 V749.8 H907.95Z"/></g></g>
</svg>
</body></html>
